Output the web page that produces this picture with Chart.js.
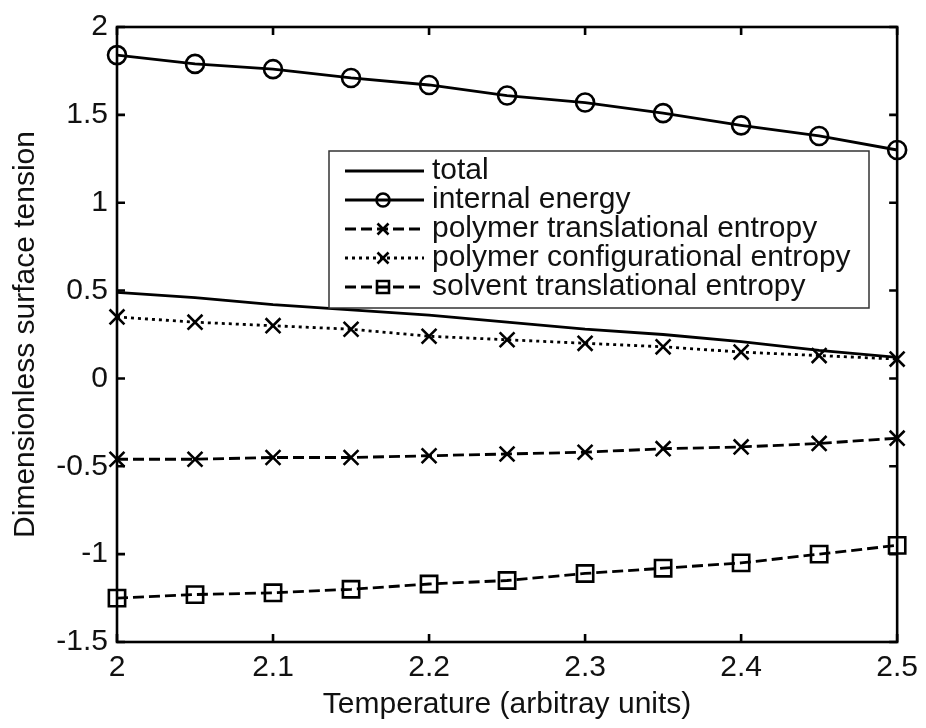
<!DOCTYPE html>
<html>
<head>
<meta charset="utf-8">
<script src="https://cdn.jsdelivr.net/npm/chart.js@4/dist/chart.umd.min.js"></script>
<style>
  html, body { margin: 0; padding: 0; background: #fff; }
  #wrap { width: 926px; height: 728px; }
</style>
</head>
<body>
<div id="wrap"><canvas id="myChart" width="926" height="728"></canvas></div>
<script>
// Temperatures (x values)
var temps = [2.0, 2.05, 2.1, 2.15, 2.2, 2.25, 2.3, 2.35, 2.4, 2.45, 2.5];

// Series values
var totalVals    = [0.49, 0.46, 0.42, 0.39, 0.36, 0.32, 0.28, 0.25, 0.21, 0.16, 0.12];
var internalVals = [1.84, 1.79, 1.76, 1.71, 1.67, 1.61, 1.57, 1.51, 1.44, 1.38, 1.30];
var polyTransVals = [-0.46, -0.46, -0.45, -0.45, -0.44, -0.43, -0.42, -0.40, -0.39, -0.37, -0.34];
var polyConfVals  = [0.35, 0.32, 0.30, 0.28, 0.24, 0.22, 0.20, 0.18, 0.15, 0.13, 0.11];
var solventVals   = [-1.25, -1.23, -1.22, -1.20, -1.17, -1.15, -1.11, -1.08, -1.05, -1.00, -0.95];

var seriesNames = ['total', 'internal energy', 'polymer translational entropy',
                   'polymer configurational entropy', 'solvent translational entropy'];

// Tick positions
var xTicks = [2, 2.1, 2.2, 2.3, 2.4, 2.5];
var yTicks = [-1.5, -1, -0.5, 0, 0.5, 1, 1.5, 2];

var FONT = "'Liberation Sans', Arial, Helvetica, sans-serif";

function pts(vals) {
    return temps.map(function (t, i) { return { x: t, y: vals[i] }; });
}

function fmt(v) {
    return String(Math.round(v * 100) / 100);
}

// dataset looks (also used by the legend)
var styles = [
    { dash: [], marker: null },
    { dash: [], marker: 'circle' },
    { dash: [11, 5], marker: 'cross' },
    { dash: [3, 4], marker: 'cross' },
    { dash: [11, 5], marker: 'square' }
];

function makeSet(i, vals) {
    var st = styles[i];
    var ps = st.marker === 'circle' ? 'circle' : st.marker === 'cross' ? 'crossRot' : 'rect';
    var pr = st.marker === 'circle' ? 9 : st.marker === 'cross' ? 10.5 : 11.5;
    return {
        label: seriesNames[i],
        data: pts(vals),
        borderColor: '#000',
        borderWidth: 2.8,
        borderDash: st.dash,
        pointStyle: ps,
        pointRadius: st.marker ? pr : 0,
        pointHoverRadius: st.marker ? pr : 0,
        pointBorderWidth: 2.6,
        pointBorderColor: '#000',
        pointBackgroundColor: 'rgba(0,0,0,0)',
        tension: 0,
        clip: false
    };
}

// draw a marker by hand for the legend
function legendMarker(ctx, kind, x, y) {
    ctx.save();
    ctx.setLineDash([]);
    ctx.lineWidth = 2.6;
    ctx.strokeStyle = '#000';
    ctx.beginPath();
    if (kind === 'circle') {
        ctx.arc(x, y, 6.5, 0, Math.PI * 2);
    } else if (kind === 'cross') {
        ctx.moveTo(x - 5.5, y - 5.5); ctx.lineTo(x + 5.5, y + 5.5);
        ctx.moveTo(x + 5.5, y - 5.5); ctx.lineTo(x - 5.5, y + 5.5);
    } else if (kind === 'square') {
        ctx.rect(x - 6, y - 6, 12, 12);
    }
    ctx.stroke();
    ctx.restore();
}

// legend box inside the plot
var boxLegend = {
    id: 'boxLegend',
    afterDatasetsDraw: function (chart) {
        var ctx = chart.ctx;
        var x0 = 329, y0 = 151, x1 = 869, y1 = 308;
        ctx.save();
        ctx.fillStyle = '#fff';
        ctx.fillRect(x0, y0, x1 - x0, y1 - y0);
        ctx.strokeStyle = '#333';
        ctx.lineWidth = 1.5;
        ctx.strokeRect(x0, y0, x1 - x0, y1 - y0);
        var rows = [171, 200, 229, 258, 287];
        ctx.font = '30px ' + FONT;
        ctx.fillStyle = '#111';
        ctx.textBaseline = 'alphabetic';
        ctx.textAlign = 'left';
        for (var i = 0; i < rows.length; i++) {
            var y = rows[i];
            ctx.save();
            ctx.strokeStyle = '#000';
            ctx.lineWidth = 2.8;
            ctx.setLineDash(styles[i].dash);
            ctx.beginPath();
            ctx.moveTo(345, y);
            ctx.lineTo(424, y);
            ctx.stroke();
            ctx.restore();
            if (styles[i].marker) legendMarker(ctx, styles[i].marker, 383, y);
            ctx.fillText(seriesNames[i], 432, y + 8);
        }
        ctx.restore();
    }
};

// MATLAB-style box with inward ticks on all four sides
var boxFrame = {
    id: 'boxFrame',
    afterDraw: function (chart) {
        var ctx = chart.ctx, a = chart.chartArea;
        var xs = chart.scales.x, ys = chart.scales.y;
        var tl = 8;
        ctx.save();
        ctx.strokeStyle = '#000';
        ctx.lineWidth = 2.6;
        ctx.setLineDash([]);
        ctx.strokeRect(a.left, a.top, a.right - a.left, a.bottom - a.top);
        ctx.beginPath();
        xTicks.forEach(function (v) {
            var px = xs.getPixelForValue(v);
            ctx.moveTo(px, a.bottom); ctx.lineTo(px, a.bottom - tl);
            ctx.moveTo(px, a.top); ctx.lineTo(px, a.top + tl);
        });
        yTicks.forEach(function (v) {
            var py = ys.getPixelForValue(v);
            ctx.moveTo(a.left, py); ctx.lineTo(a.left + tl, py);
            ctx.moveTo(a.right, py); ctx.lineTo(a.right - tl, py);
        });
        ctx.stroke();
        ctx.restore();
    }
};

var myChart = new Chart(document.getElementById('myChart'), {
    type: 'line',
    data: {
        datasets: [
            makeSet(0, totalVals),
            makeSet(1, internalVals),
            makeSet(2, polyTransVals),
            makeSet(3, polyConfVals),
            makeSet(4, solventVals)
        ]
    },
    options: {
        responsive: false,
        animation: false,
        events: [],
        layout: { padding: { left: 0, top: 25, right: 27, bottom: 0 } },
        plugins: {
            legend: { display: false },
            tooltip: { enabled: false }
        },
        scales: {
            x: {
                type: 'linear',
                min: 2,
                max: 2.5,
                afterBuildTicks: function (axis) {
                    axis.ticks = xTicks.map(function (v) { return { value: v }; });
                },
                afterFit: function (axis) { axis.height = 86; },
                grid: { display: false, drawTicks: false },
                border: { display: false },
                ticks: {
                    color: '#111',
                    font: { family: FONT, size: 30 },
                    padding: 8,
                    maxRotation: 0,
                    autoSkip: false,
                    callback: function (v) { return fmt(v); }
                },
                title: {
                    display: true,
                    text: 'Temperature (arbitray units)',
                    color: '#111',
                    font: { family: FONT, size: 30 },
                    padding: { top: 0, bottom: 5 }
                }
            },
            y: {
                type: 'linear',
                min: -1.5,
                max: 2,
                afterBuildTicks: function (axis) {
                    axis.ticks = yTicks.map(function (v) { return { value: v }; });
                },
                afterFit: function (axis) { axis.width = 117; },
                grid: { display: false, drawTicks: false },
                border: { display: false },
                ticks: {
                    color: '#111',
                    font: { family: FONT, size: 30 },
                    padding: 9,
                    autoSkip: false,
                    callback: function (v) { return fmt(v); }
                },
                title: {
                    display: true,
                    text: 'Dimensionless surface tension',
                    color: '#111',
                    font: { family: FONT, size: 30 },
                    padding: { top: 8, bottom: 0 }
                }
            }
        }
    },
    plugins: [boxLegend, boxFrame]
});
</script>
</body>
</html>
